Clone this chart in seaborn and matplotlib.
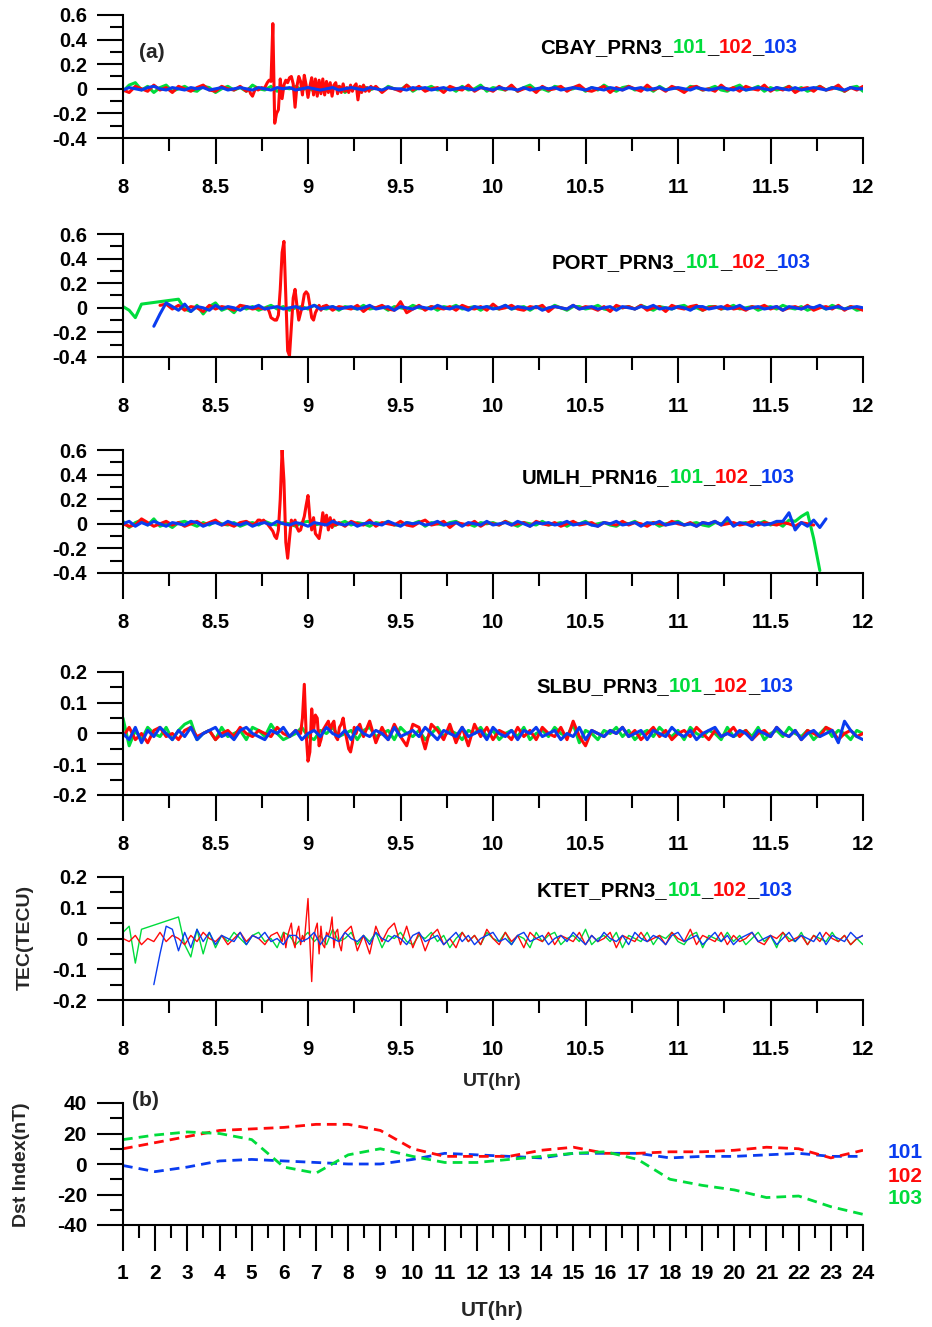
import numpy as np
import pandas as pd
import matplotlib
matplotlib.use("Agg")
import matplotlib.pyplot as plt
from matplotlib import font_manager as fm
from matplotlib.ticker import MultipleLocator, FuncFormatter
import seaborn as sns

# ---------------------------------------------------------------- data
# TEC perturbations in units of 0.01 TECU on a 2-minute grid from 8 UT to 12 UT
# (121 samples, None = no sample).  "burst" lists hold the red (day 102)
# values sampled every 0.01 h inside the disturbed window.
GRID_START, GRID_STEP = 8.0, 1.0 / 30.0
BURST_STEP = 0.01

stations = ["CBAY_PRN3_", "PORT_PRN3_", "UMLH_PRN16_", "SLBU_PRN3_", "KTET_PRN3_"]
days = ["101", "102", "103"]

# ---- CBAY_PRN3
cbay_101 = [-2,3,5,-1,2,-3,1,3,-2,0, 2,-1,-2,2,1,-3,0,2,-1,1, -2,3,0,-1,2,-2,1,0,2,-1,
            1,-2,3,-1,0,2,-3,1,0,2, -1,1,-2,2,0,-1,3,-2,1,0, 2,-1,0,1,-2,2,-1,0,3,-2,
            1,0,-1,2,-2,1,3,-1,0,-2, 2,1,-1,0,2,-2,1,-1,3,0, -2,1,2,-1,0,1,-2,2,-1,1,
            0,-2,2,1,-1,0,2,-1,-2,1, 3,-1,0,2,-2,1,-1,0,2,-1, 1,-2,0,2,-1,1,0,-2,1,2, -2]
cbay_102 = [-1,-3,2,0,-2,3,-1,1,-3,2, 0,-2,1,3,-1,-2,2,0,-1,2, -2, *[None]*20,
            2,-3,1,0,-2,3,-1,2,-2,0, 1,-3,2,0,-1,3,-2,1,0,-2, 2,-1,3,-2,0,1,-3,2,-1,0,
            2,-2,1,3,-1,-2,0,2,-3,1, -1,2,0,-2,3,-1,1,-2,2,0, -3,1,2,-1,0,-2,3,-1,1,-2,
            2,0,-1,3,-2,1,-1,2,-3,0, 1,-2,2,-1,0,3,-2,1,-1,2]
cbay_102_burst_start = 8.68
cbay_102_burst = [0,-4,-6,-2,1,-1,0,1,0,2, 5,7,6,53,-28,-20,-17,8,-8,3, 7,5,9,10,4,-15,2,10,6,-5,
                  11,3,-7,2,9,-5,8,-6,7,-4, 8,-5,6,-3,5,-6,3,5,-4,2, -3,4,-2,1,-3,3,-2,2,4,-9,
                  2,-3,3,-2,1,-2,2,0]
cbay_103 = [-1,1,0,-1,1,2,0,-1,1,0, -1,1,0,1,-1,0,1,-1,0,1, 0,-1,1,0,-1,1,0,1,-1,0,
            1,0,-1,0,1,-1,0,1,0,-1, 1,0,-1,1,0,0,-1,1,0,1, -1,0,1,-1,0,1,0,-1,1,0,
            -1,1,0,0,-1,1,-1,0,1,0, 1,-1,0,1,0,-1,1,0,-1,1, 0,-1,1,0,1,-1,0,1,-1,0,
            1,0,-1,1,0,-1,0,1,0,-1, 1,-1,0,1,0,-1,1,0,-1,1, -1,0,1,0,-1,1,0,-1,1,0, 0]

# ---- PORT_PRN3
port_101 = [1,-2,-8,3, *[None]*5, 7,-1,-3,2,-5,1,4,-2,0,-4,2,-1,
            1,-2,0,2,-1,1,-2,0,1,-1, 2,0,-1,1,-2,1,0,-1,2,-1, 0,1,-2,1,0,-1,2,0,-1,1,
            -2,1,0,2,-1,0,1,-2,1,0, -1,2,-1,0,1,-2,1,0,-1,2, 0,-2,1,1,-1,0,2,-1,-2,1,
            0,1,-1,2,0,-2,1,0,-1,1, 2,-1,0,-2,1,1,-1,0,2,-1, 0,1,-2,0,1,-1,2,0,-1,1,
            -2,0,1,-1,2,0,-1,1,-2,-1]
port_102 = [*[None]*6, 2,3,-1,2,-2,1,0,-3,2,-1,1,0,-2,2,1,-1,0,-1, *[None]*9,
            2,-2,1,0,-1,2,-3,1,0,2, -1,-2,5,-4,-1,2,-2,1,0,-1, 1,-2,2,0,-1,1,-2,3,-1,0,
            2,-1,-2,1,0,2,-3,1,0,-1, 2,-1,1,0,-2,1,-3,2,0,1, -1,2,-2,0,1,-3,2,0,-1,1,
            2,-2,0,1,-1,2,-1,0,-2,1, 0,2,-1,1,-2,0,1,-1,2,-2, 0,1,-1,2,-2,1,0,-2]
port_102_burst_start = 8.78
port_102_burst = [0,-3,-8,-9,-10,-10,-6,15,45,54, 10,-35,-39,-15,8,15,2,-10,-4,2,
                  11,13,11,2,-8,-10,-4,-1,2,-2, 1]
port_103 = [*[None]*5, -15,-5,4,1,-2,3,-3,1,0,-2,2,
            -1,1,0,-2,1,0,2,-1,0,1, -1,0,1,-1,0,2,-1,0,1,-1, 0,1,-1,0,2,-1,0,1,-2,1,
            0,-1,1,0,-1,2,0,-1,1,0, -2,1,0,1,-1,0,2,-1,1,0, -1,1,-2,0,1,0,-1,2,-1,0,
            1,-1,0,1,-2,1,0,-1,1,0, 2,-1,0,-1,1,0,-2,1,1,-1, 0,1,-1,0,2,-1,0,1,-1,0,
            1,-2,1,0,-1,1,0,2,-1,0, 1,-1,0,1,0]

# ---- UMLH_PRN16
umlh_101 = [2,-3,1,3,-1,4,-2,0,-3,1, 2,0,-2,1,-1,2,0,-1,1,-2, 0,1,-1,2,0,-1,1,0,-2,1,
            2,-1,0,1,-2,0,2,-1,1,0, -2,1,0,2,-1,-1,1,0,2,-2, 1,0,-1,1,2,-1,0,-2,1,0,
            1,-1,2,0,-2,1,0,-1,2,-1, 0,1,-2,1,0,2,-1,0,1,-1, -2,1,0,2,-1,0,1,-2,0,1,
            2,-1,0,1,-1,-2,1,0,2,-1, 0,1,-1,0,2,-1,1,-2,3,2, 6,9,-12,-38, *[None]*7]
umlh_102 = [0,-2,-1,4,1,-2,0,2,-1,1, -2,0,2,-1,1,3,-1,0,-2,1, 2,-1, *[None]*13,
            1,-2,2,0,-1,3,-2,1,0,-1, 2,-1,-2,1,3,-1,0,2,-3,1, 0,-1,2,-2,1,0,-1,2,-1,0,
            1,-2,2,0,-1,1,-2,0,2,-1, 0,1,-2,1,0,-1,2,-1,1,0, -2,1,0,-1,2,0,-1,1,-2,1,
            0,2,-1,0,1,-1,0,2,-1,1, 0,-1,1,0,-2,1,0,-1, *[None]*8]
umlh_102_burst_start = 8.72
umlh_102_burst = [1,3,3,2,3,1,0,-2,-4,-6, -10,-12,-5,20,60,35,-15,-28,-12,3,
                  -1,3,-3,-6,-5,1,6,15,23,5, -5,5,-8,-10,-12,-3,9,-1,7,-5, 5,-3,3,-1,0]
umlh_103 = [0,2,-2,1,-1,2,0,-2,1,0, -1,2,1,-2,0,1,-1,2,0,-1, 1,-2,0,1,-1,2,0,-1,1,0,
            -2,1,0,-1,2,0,-1,1,-2,0, 1,0,-1,2,0,-2,1,0,1,-1, 0,2,-1,0,1,-2,1,0,-1,2,
            -1,0,1,-1,2,0,-2,1,0,1, -1,0,2,-1,0,1,-1,-2,1,0, 2,-1,0,1,-2,1,0,2,-1,0,
            1,-1,0,-2,1,0,2,-1,5,-2, 1,0,-2,1,-1,0,2,2,9,-5, 1,-2,3,-3,4, *[None]*6]

# ---- SLBU_PRN3
slbu_101 = [5,-4,1,-2,2,0,-1,2,-2,1, 3,4,-2,0,1,-2,2,-1,0,1, -2,2,1,-1,3,0,-2,-1,0,2,
            -1,-2,1,0,2,-1,0,1,-2,1, 2,-1,0,1,-2,2,0,-1,1,-2, 0,2,-1,1,0,-2,1,0,2,-1,
            1,-2,0,1,-1,2,-2,0,1,-1, 2,0,-1,3,-3,1,0,-2,1,0, 2,-1,1,-2,0,1,-1,2,0,-1,
            1,-2,2,0,-1,1,0,-2,2,-1, 0,1,-1,2,-2,0,1,-1,2,0, -1,1,-2,0,2,-1,1,0,-2,1, 0]
slbu_102 = [-1,2,-2,0,-3,1,2,-1,0,-2, 1,2,-1,0,1,-2,0,1,-1,2, 0,-1,1,0,-1,2,0,-1,1,
            *[None]*11,
            4,-3,2,-2,3,-1,-4,3,2,-5, 3,1,-2,3,-3,2,-4,3,-1,2, -2,1,0,-2,2,-1,1,-2,2,0,
            -1,2,-2,4,-1,-4,1,0,-1,1, 0,2,-1,1,-2,0,2,-1,1,-2, 0,1,-1,2,0,-2,1,-1,0,2,
            -1,1,-2,0,1,-1,2,0,-1,1, -2,1,0,-1,2,1,-2,0,1,-1, 0]
slbu_102_burst_start = 8.96
slbu_102_burst = [0,5,16,0,-9,-6,8,1,6,5, -4,-2,1,2,3,4,1,3,4,-1,
                  -2,2,3,5,1,-2,-5,-6,-3,2, 0,2,3,1,-1]
slbu_103 = [0,-2,2,-3,1,-1,2,0,-2,1, -1,2,-2,0,1,2,-1,0,-2,1, 2,0,-1,-2,1,0,2,-1,1,-2,
            0,1,-1,2,0,-1,1,-2,2,0, -1,1,0,-2,2,-1,0,1,-1,2, 0,-2,1,0,-1,2,-1,0,1,-2,
            2,0,-1,1,-2,1,0,2,-1,0, 1,-2,0,-1,2,-2,1,0,-1,1, 0,2,-1,0,1,-2,1,0,-1,2,
            0,-1,1,-2,0,1,2,-1,0,-1, 1,0,-2,1,0,-1,2,0,-1,1, -2,0,1,-1,0,1,-3,4,1,-1, -2]

# ---- KTET_PRN3
ktet_101 = [2,4,-8,3, *[None]*5, 7,-2,-6,3,-5,2,-3,1,-1,2,0,
            -2,1,2,-1,0,-3,2,1,-2,0, 2,-1,1,-2,3,-1,0,2,-2,1, -1,2,-3,1,0,2,-1,-2,1,0,
            2,-1,1,-3,0,2,-1,1,-2,2, 0,-1,2,-2,1,0,-3,2,-1,1, 2,-2,0,1,-1,3,-2,0,1,-1,
            2,-3,1,0,-1,2,-2,1,0,2, -1,-2,1,2,-3,1,0,-1,2,-1, 1,-2,0,2,-1,1,-3,2,0,-1,
            2,-2,1,0,-1,2,-1,1,-2,0, -2]
ktet_102 = [0,-1,1,-2,0,-1,2,-1,1,0, -2,1,-1,2,0,-1,1,-2,0,2, -1,1,0,-2,1,2, *[None]*11,
            4,-4,1,-5,4,-1,3,5,-2,4, -3,2,-4,1,3,-2,0,-3,2,-1, 1,-2,3,0,-2,2,-1,1,-3,2,
            0,-1,2,-2,1,0,-1,2,-2,1, -1,0,2,-3,1,0,-1,2,-1,0, 1,-2,2,0,-1,3,-2,1,0,-1,
            2,-2,1,-1,0,2,-1,-2,1,0, 2,-1,0,1,-2,1,-1,2,0,-1, 1,-2,0,1]
ktet_102_burst_start = 8.86
ktet_102_burst = [-1,2,-3,1,3,5,-1,-3,2,4, -2,1,-1,6,13,-1,-14,0,3,5,
                  -5,4,-2,-3,2,1,3,7,-3,2, 3,-2,-4,1,2]
ktet_103 = [*[None]*5, -15,-5,4,3,-4,2,-3,3,-1,2,
            -2,1,0,-1,2,-2,1,0,2,-1, 0,-2,1,1,-1,0,2,-2,1,0, -1,2,0,-1,1,-2,2,0,-1,1,
            0,-2,1,2,-1,0,1,-2,0,2, -1,1,-2,0,1,2,-1,0,-2,1, 2,-1,0,1,-2,0,1,-1,2,0,
            -2,1,-1,2,0,-1,1,-2,2,0, -1,1,0,-2,1,2,-1,0,1,-2, 0,2,-1,1,-2,0,1,2,-1,0,
            1,-2,0,2,-1,1,0,-1,2,-2, 1,0,-1,2,0,1]

# ---- Dst index (nT), hourly, days 101-103
dst_hours = list(range(1, 25))
dst_101 = [-1, -5, -2, 2, 3, 2, 1, 0, 0, 3, 7, 6, 5, 4, 7, 7, 7, 4, 5, 5, 6, 7, 5, 5]
dst_102 = [10, 14, 18, 22, 23, 24, 26, 26, 22, 10, 5, 5, 5, 9, 11, 7, 7, 8, 8, 9, 11, 10, 4, 9]
dst_103 = [16, 19, 21, 20, 16, -2, -6, 6, 10, 5, 1, 1, 3, 5, 7, 8, 3, -10, -14, -17, -22, -21, -28, -33]

# ---------------------------------------------------------------- style
GREEN, RED, BLUE = "#00dc3c", "#ff0a0a", "#0a3cf0"
day_colors = [GREEN, RED, BLUE]

sns.set_theme(style="ticks")
plt.rcParams["font.family"] = ["Liberation Sans", "DejaVu Sans"]
plt.rcParams["font.weight"] = "bold"
plt.rcParams["axes.linewidth"] = 1.5

names = {f.name for f in fm.fontManager.ttflist}
NARROW = "Liberation Sans Narrow" if "Liberation Sans Narrow" in names else "Liberation Sans"

W, H = 932, 1327
fig = plt.figure(figsize=(W / 100, H / 100), dpi=100)


def px(x, y):
    return x / W, 1 - y / H


def add_ax(top, bottom, left=123, right=863):
    return fig.add_axes([left / W, 1 - bottom / H, (right - left) / W, (bottom - top) / H])


def build(coarse, burst=None, burst_start=None):
    t = GRID_START + np.arange(len(coarse)) * GRID_STEP
    v = np.array([np.nan if c is None else c for c in coarse], dtype=float)
    if burst is not None:
        tb = burst_start + np.arange(len(burst)) * BURST_STEP
        t = np.concatenate([t, tb])
        v = np.concatenate([v, np.asarray(burst, dtype=float)])
    df = pd.DataFrame({"t": t, "v": v * 0.01}).dropna().sort_values("t")
    return df


fmt = FuncFormatter(lambda v, p: f"{v:g}".replace("\u2212", "-"))

panels = [
    dict(st=stations[0], s=[build(cbay_101), build(cbay_102, cbay_102_burst, cbay_102_burst_start), build(cbay_103)],
         box=(15, 138), ylim=(-0.4, 0.6), maj=0.2, mnr=0.1, lw=2.2, title=(540, 53)),
    dict(st=stations[1], s=[build(port_101), build(port_102, port_102_burst, port_102_burst_start), build(port_103)],
         box=(234, 357), ylim=(-0.4, 0.6), maj=0.2, mnr=0.1, lw=2.2, title=(552, 268)),
    dict(st=stations[2], s=[build(umlh_101), build(umlh_102, umlh_102_burst, umlh_102_burst_start), build(umlh_103)],
         box=(450, 573), ylim=(-0.4, 0.6), maj=0.2, mnr=0.1, lw=2.2, title=(522, 483)),
    dict(st=stations[3], s=[build(slbu_101), build(slbu_102, slbu_102_burst, slbu_102_burst_start), build(slbu_103)],
         box=(672, 795), ylim=(-0.2, 0.2), maj=0.1, mnr=0.05, lw=2.2, title=(536, 692)),
    dict(st=stations[4], s=[build(ktet_101), build(ktet_102, ktet_102_burst, ktet_102_burst_start), build(ktet_103)],
         box=(877, 1000), ylim=(-0.2, 0.2), maj=0.1, mnr=0.05, lw=1.0, title=(537, 896)),
]

TICK_FS = 14.5
renderer = fig.canvas.get_renderer()


def style_axis(ax):
    sns.despine(ax=ax)
    ax.tick_params(which="major", length=19, width=1.5, direction="out", color="black",
                   labelsize=TICK_FS, labelcolor="black")
    ax.tick_params(which="minor", length=9.5, width=1.5, direction="out", color="black")
    ax.tick_params(axis="x", which="major", pad=10)
    ax.tick_params(axis="y", which="major", pad=7)
    for sp in ax.spines.values():
        sp.set_color("black")
        sp.set_linewidth(1.5)
    ax.set_xlabel("")
    ax.set_ylabel("")
    ax.set_facecolor("none")
    ax.grid(False)


for p in panels:
    ax = add_ax(*p["box"])
    for df, col in zip(p["s"], day_colors):
        sns.lineplot(data=df, x="t", y="v", ax=ax, color=col, linewidth=p["lw"],
                     estimator=None, sort=True, legend=False)
    ax.set_xlim(8, 12)
    ax.set_ylim(*p["ylim"])
    ax.xaxis.set_major_locator(MultipleLocator(0.5))
    ax.xaxis.set_minor_locator(MultipleLocator(0.25))
    ax.yaxis.set_major_locator(MultipleLocator(p["maj"]))
    ax.yaxis.set_minor_locator(MultipleLocator(p["mnr"]))
    ax.xaxis.set_major_formatter(fmt)
    ax.yaxis.set_major_formatter(fmt)
    style_axis(ax)
    # multi-coloured title
    x0, y0 = p["title"]
    xd = x0
    for s, c in [(p["st"], "black"), (days[0], GREEN), ("_", "black"), (days[1], RED),
                 ("_", "black"), (days[2], BLUE)]:
        t = fig.text(*px(xd, y0), s, color=c, fontsize=14.7, fontweight="bold",
                     ha="left", va="baseline")
        bb = t.get_window_extent(renderer)
        xd = bb.x1

fig.text(*px(152, 53), "(a)", fontsize=15, fontweight="bold", ha="center", va="center")
fig.text(*px(25, 937), "TEC(TECU)", fontsize=14, fontweight="bold", rotation=90,
         ha="center", va="center")
fig.text(*px(492, 1081), "UT(hr)", fontsize=14, fontweight="bold", ha="center", va="center")

# ---------------------------------------------------------------- Dst panel
ax6 = add_ax(1103, 1225)
dst_df = pd.DataFrame({"hour": dst_hours * 3,
                       "dst": dst_101 + dst_102 + dst_103,
                       "day": [days[0]] * 24 + [days[1]] * 24 + [days[2]] * 24})
dst_colors = {days[0]: BLUE, days[1]: RED, days[2]: GREEN}
for d in days:
    sub = dst_df[dst_df["day"] == d]
    sns.lineplot(data=sub, x="hour", y="dst", ax=ax6, color=dst_colors[d], linewidth=2.0,
                 linestyle=(0, (3.5, 2.2)), estimator=None, legend=False)
ax6.set_xlim(1, 24)
ax6.set_ylim(-40, 40)
ax6.xaxis.set_major_locator(MultipleLocator(1))
ax6.xaxis.set_minor_locator(MultipleLocator(0.5))
ax6.yaxis.set_major_locator(MultipleLocator(20))
ax6.yaxis.set_minor_locator(MultipleLocator(10))
ax6.xaxis.set_major_formatter(fmt)
ax6.yaxis.set_major_formatter(fmt)
style_axis(ax6)
ax6.tick_params(axis="x", which="major", pad=9)
for lab in ax6.get_xticklabels() + ax6.get_yticklabels():
    lab.set_fontfamily([NARROW, "Liberation Sans"])
    lab.set_fontsize(15)

fig.text(*px(145, 1101), "(b)", fontsize=15, fontweight="bold", ha="center", va="center",
         fontfamily=[NARROW, "Liberation Sans"])
fig.text(*px(22, 1165), "Dst Index(nT)", fontsize=14, fontweight="bold", rotation=90,
         ha="center", va="center")
fig.text(*px(492, 1311), "UT(hr)", fontsize=15, fontweight="bold", ha="center", va="center",
         fontfamily=[NARROW, "Liberation Sans"])
for d, yy in zip(days, [1152, 1176, 1199]):
    fig.text(*px(905, yy), d, color=dst_colors[d], fontsize=15, fontweight="bold",
             ha="center", va="center")

fig.savefig("out.png", dpi=100, facecolor="white")
